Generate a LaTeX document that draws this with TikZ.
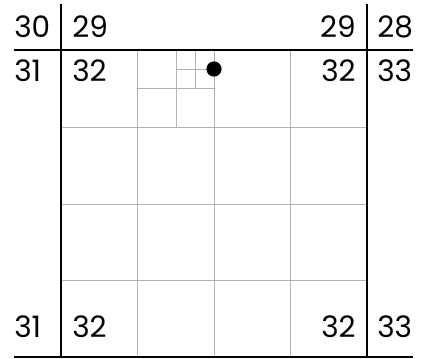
\documentclass[tikz,border=0pt]{standalone}
\usepackage{fontspec}
\setmainfont{Poppins}
\usepackage{tikz}

\tikzset{
  rule/.style={line width=2pt, black},
  gridline/.style={line width=0.5pt, black!30},
  num/.style={inner sep=0pt, font=\fontsize{21pt}{25pt}\selectfont},
}

\begin{document}
\begin{tikzpicture}[x=0.025cm, y=-0.025cm]
        \useasboundingbox (0,0) rectangle (433,359);

        % Fine grid: 4 x 4 cells inside the frame.
        \foreach \gx in {137.5,214,290.5}
          \draw[gridline] (\gx,50) -- (\gx,357);
        \foreach \gy in {127,204,280}
          \draw[gridline] (61,\gy) -- (367,\gy);

        % One cell split twice towards the point.
        \draw[gridline] (176,50) -- (176,127);
        \draw[gridline] (137.5,88) -- (214,88);
        \draw[gridline] (195,50) -- (195,88);
        \draw[gridline] (176,69) -- (214,69);

        % Frame lines.
        \draw[rule] (61,4) -- (61,357);
        \draw[rule] (367,4) -- (367,357);
        \draw[rule] (14,50) -- (413,50);
        \draw[rule] (14,357) -- (413,357);

        % The point.
        \fill (214,69) circle (0.19cm);

        % Top row of numbers.
        \node[num, anchor=base west] (top30) at (14,38) {30};
        \node[num, anchor=base west] (top29l) at (72,38) {29};
        \node[num, anchor=base east] (top29r) at (356,38) {29};
        \node[num, anchor=base west] (top28) at (377,38) {28};

        % Second row.
        \node[num, anchor=base west] (mid31) at (14,82) {31};
        \node[num, anchor=base west] (mid32l) at (72,82) {32};
        \node[num, anchor=base east] (mid32r) at (356,82) {32};
        \node[num, anchor=base west] (mid33) at (377,82) {33};

        % Bottom row.
        \node[num, anchor=base west] (bot31) at (14,337) {31};
        \node[num, anchor=base west] (bot32l) at (72,337) {32};
        \node[num, anchor=base east] (bot32r) at (356,337) {32};
        \node[num, anchor=base west] (bot33) at (377,337) {33};
\end{tikzpicture}
\end{document}
